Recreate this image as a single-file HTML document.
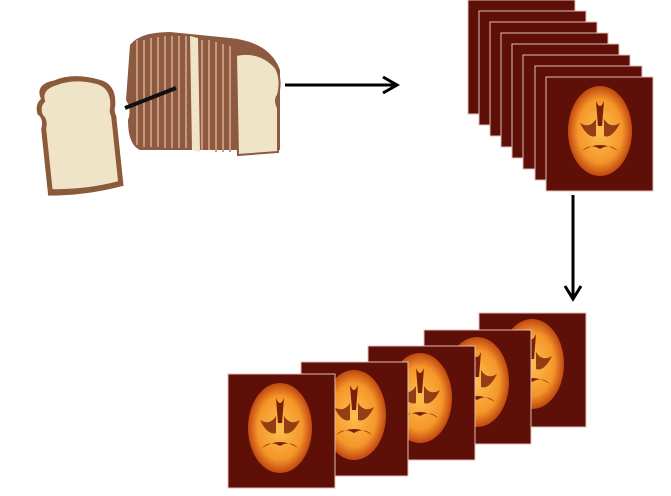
<!DOCTYPE html>
<html><head><style>html,body{margin:0;padding:0;background:#fff;width:671px;height:496px;overflow:hidden}</style></head>
<body>
<svg width="671" height="496" viewBox="0 0 671 496" xmlns="http://www.w3.org/2000/svg">
<defs>
<radialGradient id="br" cx="50%" cy="50%" r="50%">
<stop offset="0" stop-color="#fbc050"/><stop offset="0.7" stop-color="#f5962a"/><stop offset="1" stop-color="#c04810"/>
</radialGradient>
<g id="brain">
<ellipse cx="0" cy="0" rx="32" ry="45" fill="url(#br)"/>
<path d="M-4,-30 Q0,-20 4,-30 L2,-5 L-2,-5Z" fill="#7a200a"/>
<path d="M-20,-8 Q-10,-2 -4,-12 L-4,5 Q-12,8 -20,-8Z" fill="#7a200a" opacity="0.8"/>
<path d="M20,-8 Q10,-2 4,-12 L4,5 Q12,8 20,-8Z" fill="#7a200a" opacity="0.8"/>
<path d="M-18,20 Q0,8 18,20 Q10,12 0,18 Q-10,12 -18,20Z" fill="#7a200a"/>
</g>
<g id="frame">
<rect x="0" y="0" width="107" height="114" fill="#5e1008" stroke="#e0bcb4" stroke-width="1"/>
</g>
</defs>

<!-- bread slice -->
<g transform="rotate(-6 80 135)">
<path d="M45,95 Q40,80 60,78 Q80,72 105,82 Q122,88 118,110 Q116,115 118,120 L118,190 Q80,196 42,192 L42,125 Q46,115 40,110 Q38,100 45,95Z" fill="#8a5a3a"/>
<path d="M49,98 Q46,86 62,83 Q80,78 102,86 Q116,92 113,110 Q111,115 113,120 L113,185 Q80,190 47,186 L47,125 Q50,116 45,111 Q43,102 49,98Z" fill="#efe3c8"/>
</g>
<!-- loaf -->
<path d="M130,45 Q140,32 170,32 L230,38 Q270,42 280,70 L280,150 L140,150 Q128,145 128,120 Q132,110 126,100 Z" fill="#8c5a40"/>
<g stroke="#c9967a" stroke-width="2" fill="none">
<path d="M137,40 V145"/><path d="M144,40 V147"/><path d="M151,38 V147"/><path d="M158,37 V147"/><path d="M165,36 V148"/><path d="M172,36 V148"/><path d="M179,36 V148"/><path d="M186,36 V148"/>
<path d="M202,40 V150"/><path d="M209,40 V150"/><path d="M216,42 V152"/><path d="M223,44 V152"/><path d="M230,46 V152"/>
</g>
<path d="M190,36 L198,38 L200,152 L192,150Z" fill="#efe3c8"/>
<path d="M236,55 Q260,50 276,68 Q282,80 278,95 Q274,100 278,108 L278,152 L238,155 Z" fill="#efe3c8" stroke="#8c5a40" stroke-width="2"/>
<line x1="125" y1="108" x2="176" y2="88" stroke="#111" stroke-width="4"/>

<!-- top stack -->
<use href="#frame" x="468" y="0"/>
<use href="#frame" x="479" y="11"/>
<use href="#frame" x="490" y="22"/>
<use href="#frame" x="501" y="33"/>
<use href="#frame" x="512" y="44"/>
<use href="#frame" x="523" y="55"/>
<use href="#frame" x="535" y="66"/>
<use href="#frame" x="546" y="77"/>
<use href="#brain" x="600" y="131"/>

<!-- arrows -->
<line x1="285" y1="85" x2="394" y2="85" stroke="#000" stroke-width="3"/>
<path d="M383,77 L397,85 L383,93" fill="none" stroke="#000" stroke-width="3"/>
<line x1="573" y1="195" x2="573" y2="297" stroke="#000" stroke-width="3"/>
<path d="M565,286 L573,299 L581,286" fill="none" stroke="#000" stroke-width="3"/>

<!-- bottom stack -->
<use href="#frame" x="479" y="313"/><use href="#brain" x="532" y="364"/>
<use href="#frame" x="424" y="330"/><use href="#brain" x="477" y="382"/>
<use href="#frame" x="368" y="346"/><use href="#brain" x="420" y="398"/>
<use href="#frame" x="301" y="362"/><use href="#brain" x="354" y="415"/>
<use href="#frame" x="228" y="374"/><use href="#brain" x="280" y="428"/>
</svg>
</body></html>
